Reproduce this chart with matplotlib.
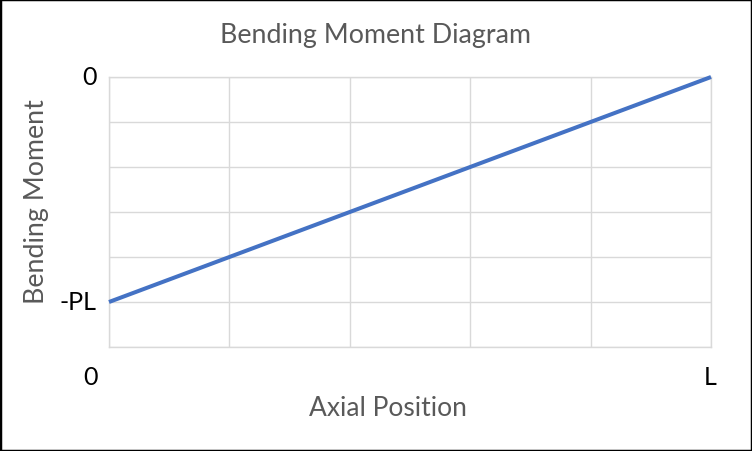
import matplotlib
matplotlib.use("Agg")
import matplotlib.pyplot as plt
from matplotlib.patches import Rectangle

# Data
x_pos = [0, 5]
moment = [-5, 0]
y_ticks = [0, -5]
y_tick_labels = ["0", "-PL"]
x_end_labels = ["0", "L"]

title = "Bending Moment Diagram"
xlabel = "Axial Position"
ylabel = "Bending Moment"

plt.rcParams['font.family'] = ['Lato', 'DejaVu Sans']

fig = plt.figure(figsize=(7.52, 4.52), dpi=100)
ax = fig.add_axes([109/752, 1-348/452, (711-109)/752, (348-78)/452])

ax.plot(x_pos, moment, color="#4472C4", lw=2.9, solid_capstyle="butt", zorder=3, clip_on=False)
ax.set_xlim(0, 5)
ax.set_ylim(-6, 0)
ax.set_xticks(range(0, 6))
ax.set_yticks(range(-6, 1))
ax.grid(True, color="#D9D9D9", lw=1.0)
ax.tick_params(length=0, labelbottom=False, labelleft=False)
for s in ax.spines.values():
    s.set_color("#D9D9D9")
    s.set_linewidth(1.0)

# y labels
for v, lab in zip(y_ticks, y_tick_labels):
    ax.text(-0.1, v, lab, ha="right", va="center", fontsize=18, color="black",
            transform=ax.transData)
# x end labels
ax.text(-0.155, -6.65, x_end_labels[0], ha="center", va="center", fontsize=18, color="black")
ax.text(4.99, -6.65, x_end_labels[1], ha="center", va="center", fontsize=18, color="black")

fig.text(376/752, 1-36/452, title, ha="center", va="center", fontsize=19.3, color="#595959")
fig.text(388/752, 1-409/452, xlabel, ha="center", va="center", fontsize=19, color="#595959")
fig.text(37/752, 1-202/452, ylabel, ha="center", va="center", rotation=90, fontsize=19.3, color="#595959")

fig.patches.append(Rectangle((0, 0), 1, 1, transform=fig.transFigure, fill=False,
                             edgecolor="black", lw=2.5, zorder=10))

fig.savefig("out.png", dpi=100)
